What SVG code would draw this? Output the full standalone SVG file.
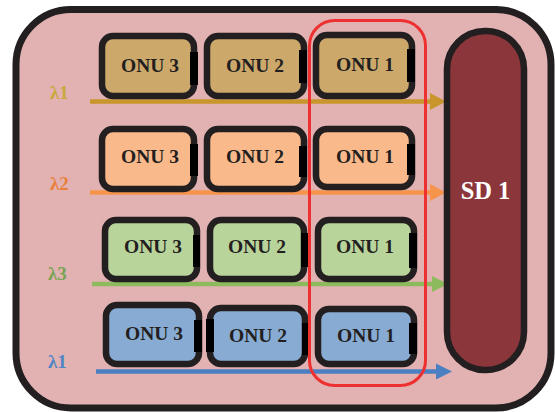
<svg xmlns="http://www.w3.org/2000/svg" width="555" height="412" viewBox="0 0 555 412">
  <style>
    .frame { fill: #e2b1b1; stroke: #231f20; stroke-width: 7; }
    .onu { stroke: #231f20; stroke-width: 6.5; }
    .tab { fill: #000000; }
    .lbl { font-family: "Liberation Serif", "Times New Roman", serif; font-weight: bold; font-size: 19.5px; fill: #231f20; text-anchor: middle; }
    .lam { font-family: "Liberation Serif", "Times New Roman", serif; font-weight: bold; font-size: 19px; }
    .r1 { fill: #cca86a; }
    .r2 { fill: #f9b98b; }
    .r3 { fill: #b9d49b; }
    .r4 { fill: #87abd2; }
    .wire { stroke-width: 4.5; fill: none; }
  </style>

  <!-- outer enclosure -->
  <rect class="frame" x="16" y="9.5" width="535" height="398.5" rx="55"/>

  <!-- wavelength labels -->
  <text class="lam" x="50" y="99" fill="#c9a83c">λ1</text>
  <text class="lam" x="50" y="190" fill="#e8803a">λ2</text>
  <text class="lam" x="48" y="280" fill="#79a356">λ3</text>
  <text class="lam" x="48" y="368" fill="#4f86c6">λ1</text>

  <!-- connectors -->
  <g id="connectors">
    <line class="wire" x1="90" y1="101.5" x2="432" y2="101.5" stroke="#c8962c"/>
    <polygon points="430,93 446,101.5 430,110" fill="#c8962c"/>
    <line class="wire" x1="90" y1="192.5" x2="432" y2="192.5" stroke="#f6944c"/>
    <polygon points="430,184 446,192.5 430,201" fill="#f6944c"/>
    <line class="wire" x1="92" y1="284" x2="434" y2="284" stroke="#8dba5c"/>
    <polygon points="432,276 448,284 432,292" fill="#8dba5c"/>
    <line class="wire" x1="96" y1="371.5" x2="438" y2="371.5" stroke="#4a7fc1"/>
    <polygon points="436,363.5 452,371.5 436,379.5" fill="#4a7fc1"/>
  </g>

  <!-- row 1 -->
  <g id="r1-onu3">
    <rect class="onu r1" x="102" y="36" width="92" height="60" rx="11"/>
    <rect class="tab" x="190" y="52" width="8" height="33"/>
    <text class="lbl" x="150" y="72">ONU 3</text>
  </g>
  <g id="r1-onu2">
    <rect class="onu r1" x="207" y="36" width="97" height="60" rx="11"/>
    <rect class="tab" x="299" y="50" width="8" height="33"/>
    <text class="lbl" x="255" y="72">ONU 2</text>
  </g>
  <g id="r1-onu1">
    <rect class="onu r1" x="316" y="35" width="96" height="61" rx="11"/>
    <rect class="tab" x="407" y="49" width="8" height="33"/>
    <text class="lbl" x="365" y="71">ONU 1</text>
  </g>

  <!-- row 2 -->
  <g id="r2-onu3">
    <rect class="onu r2" x="102" y="129" width="92" height="60" rx="11"/>
    <rect class="tab" x="190" y="144" width="8" height="32"/>
    <text class="lbl" x="150" y="163">ONU 3</text>
  </g>
  <g id="r2-onu2">
    <rect class="onu r2" x="207" y="129" width="97" height="60" rx="11"/>
    <rect class="tab" x="299" y="146" width="8" height="31"/>
    <text class="lbl" x="255" y="163">ONU 2</text>
  </g>
  <g id="r2-onu1">
    <rect class="onu r2" x="316" y="129" width="96" height="58" rx="11"/>
    <rect class="tab" x="407" y="144" width="8" height="31"/>
    <text class="lbl" x="365" y="163">ONU 1</text>
  </g>

  <!-- row 3 -->
  <g id="r3-onu3">
    <rect class="onu r3" x="105" y="220" width="92" height="59" rx="11"/>
    <rect class="tab" x="193" y="235" width="7" height="32"/>
    <text class="lbl" x="153" y="253">ONU 3</text>
  </g>
  <g id="r3-onu2">
    <rect class="onu r3" x="210" y="220" width="94" height="59" rx="11"/>
    <rect class="tab" x="301" y="233" width="7" height="34"/>
    <text class="lbl" x="257" y="253">ONU 2</text>
  </g>
  <g id="r3-onu1">
    <rect class="onu r3" x="318" y="220" width="96" height="59" rx="11"/>
    <rect class="tab" x="409" y="233" width="8" height="35"/>
    <text class="lbl" x="365" y="253">ONU 1</text>
  </g>

  <!-- row 4 -->
  <g id="r4-onu3">
    <rect class="onu r4" x="106" y="305" width="93" height="59" rx="11"/>
    <rect class="tab" x="194" y="320" width="8" height="32"/>
    <text class="lbl" x="154" y="340">ONU 3</text>
  </g>
  <g id="r4-onu2">
    <rect class="onu r4" x="210" y="308" width="95" height="56" rx="11"/>
    <rect class="tab" x="206" y="319" width="8" height="33"/>
    <rect class="tab" x="302" y="323" width="6" height="32"/>
    <text class="lbl" x="258" y="342">ONU 2</text>
  </g>
  <g id="r4-onu1">
    <rect class="onu r4" x="318" y="309" width="96" height="55" rx="11"/>
    <rect class="tab" x="409" y="323" width="8" height="31"/>
    <text class="lbl" x="366" y="342">ONU 1</text>
  </g>

  <!-- column selection outline -->
  <rect x="309.5" y="20.5" width="116" height="365" rx="25" fill="none" stroke="#ee3030" stroke-width="3"/>

  <!-- splitter / SD -->
  <g id="sd1">
    <rect x="447" y="31" width="77" height="339" rx="38" fill="#8b363b" stroke="#231f20" stroke-width="6.5"/>
    <text x="485.5" y="199" font-family="'Liberation Serif', 'Times New Roman', serif" font-weight="bold" font-size="24.5" fill="#ffffff" text-anchor="middle">SD 1</text>
  </g>
</svg>
